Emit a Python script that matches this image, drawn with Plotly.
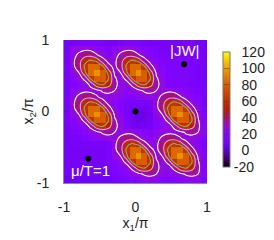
import plotly.graph_objects as go

FONT = "Liberation Sans, Arial, sans-serif"
COLORS_T = [0.0, 0.05, 0.1, 0.15, 0.2, 0.25, 0.3, 0.35, 0.4, 0.45, 0.5, 0.55, 0.6, 0.65, 0.7, 0.75, 0.8, 0.85, 0.9, 0.95, 1.0]
COLORS = ["#000000", "#39004f", "#510096", "#6301ce", "#7202f3", "#8004ff", "#8c07f3", "#970bce", "#a11096", "#ab174f", "#b42000",
          "#bd2a00", "#c63700", "#ce4600", "#d55700", "#dd6c00", "#e48300", "#eb9d00", "#f2ba00", "#f9db00", "#ffff00"]
CSCALE = [[t, c] for t, c in zip(COLORS_T, COLORS)]

# |JW|, row by row from the top of the plot
JW_ROWS = [
 [ 9,10,12,13,14,13,12,11,10,12,13,14,13,12,11,11,11,11,11,11,11,11,10, 9],
 [10,22,25,27,26,22,18,15,22,25,27,26,22,18,15,13,12,12,12,12,12,12,11,10],
 [11,25,33,39,39,31,24,19,25,33,39,39,31,24,19,15,13,13,13,13,13,13,12,10],
 [11,27,39,56,63,56,36,26,27,39,56,63,56,36,26,19,15,14,14,14,14,13,12,10],
 [11,26,39,63,84,84,63,35,26,39,63,84,84,63,35,24,18,14,14,14,14,13,12,10],
 [11,24,30,56,84,96,80,54,28,30,56,84,96,80,54,28,21,15,14,14,14,13,12,10],
 [11,18,25,33,62,80,80,60,32,25,33,62,80,80,60,32,24,16,14,14,14,13,12,10],
 [11,15,19,24,33,54,60,50,34,25,24,33,54,60,50,34,25,16,14,14,14,13,12,10],
 [11,22,25,27,26,26,32,34,30,24,19,24,26,32,34,30,25,27,26,22,18,15,13,10],
 [11,25,33,39,39,31,25,25,24,20,15,18,21,24,25,25,33,39,39,31,24,19,15,11],
 [11,27,39,56,63,56,36,26,19,15,13,12,11,11,12,27,39,56,63,56,36,26,19,11],
 [11,26,39,63,84,84,63,35,24,18,12,10, 8, 8,10,26,39,63,84,84,63,35,24,14],
 [11,24,30,56,84,96,80,54,28,21,12, 8, 5, 5, 8,24,30,56,84,96,80,54,28,15],
 [11,18,25,33,62,80,80,60,32,24,13, 9, 6, 6, 9,18,25,33,62,80,80,60,32,16],
 [10,15,19,24,33,54,60,50,34,25,14,11, 9, 9,11,15,19,24,33,54,60,50,34,18],
 [10,13,15,19,24,26,32,34,30,25,27,26,22,18,15,22,25,27,26,26,32,34,30,20],
 [10,12,13,15,18,21,24,25,25,33,39,39,31,24,19,25,33,39,39,31,25,25,24,16],
 [10,11,11,12,12,12,12,13,27,39,56,63,56,36,26,27,39,56,63,56,36,26,19,13],
 [10,10,10,10,10,10,11,13,26,39,63,84,84,63,35,26,39,63,84,84,63,35,24,15],
 [10,10,10,10,10,10,10,13,24,30,56,84,96,80,54,28,30,56,84,96,80,54,28,16],
 [10,10,10,10,10,10,10,12,18,25,33,62,80,80,60,32,25,33,62,80,80,60,32,17],
 [10,10,10,10,10,10,10,11,15,19,24,33,54,60,50,34,25,24,33,54,60,50,34,18],
 [ 9,10,10,10,10,10,10,10,13,15,19,24,26,32,34,30,24,19,24,26,32,34,30,17],
 [ 8, 9, 9, 9, 9, 9, 9, 9,11,12,14,16,19,22,23,22,18,14,16,19,22,23,22,14],
]
DOT_X = [0.68, 0.0, -0.66]
DOT_Y = [0.66, 0.0, -0.66]
CONTOUR_LEVELS = [30, 45, 60]
CONTOUR_COLORS = ["#ffffff", "#e0a0d4", "#90a870"]
CB_TICKS = [-20, 0, 20, 40, 60, 80, 100, 120]
CB_LABELS = ["-20", "\u00a0\u00a00", "\u00a0\u00a020", "\u00a0\u00a040", "\u00a0\u00a060", "\u00a0\u00a080", "\u00a0\u00a0100", "\u00a0\u00a0120"]
AXIS_TICKS = [-1, 0, 1]

z = JW_ROWS[::-1]
grid = dict(x0=-1 + 1 / 24, dx=1 / 12, y0=-1 + 1 / 24, dy=1 / 12)

fig = go.Figure()
fig.add_trace(go.Heatmap(
    z=z, **grid, colorscale=CSCALE, zmin=-20, zmax=120, hoverinfo="skip",
    colorbar=dict(
        thicknessmode="pixels", thickness=7, lenmode="pixels", len=115,
        xref="paper", yref="paper", x=1.112, xanchor="left", y=0.916, yanchor="top",
        xpad=0, ypad=0, outlinecolor="#777777", outlinewidth=1,
        tickmode="array", tickvals=CB_TICKS, ticktext=CB_LABELS,
        ticks="inside", ticklen=6, tickwidth=1, tickcolor="rgba(60,60,60,0.5)",
        tickfont=dict(family=FONT, size=14, color="#222222"), ticklabelposition="outside",
    ),
))
for level, color in zip(CONTOUR_LEVELS, CONTOUR_COLORS):
    fig.add_trace(go.Contour(
        z=z, **grid, showscale=False, hoverinfo="skip",
        contours=dict(coloring="none", start=level, end=level, size=1),
        line=dict(color=color, width=1.1, smoothing=1.0),
    ))
fig.add_trace(go.Scatter(x=DOT_X, y=DOT_Y, mode="markers", marker=dict(color="black", size=6), hoverinfo="skip"))

axis = dict(range=[-1, 1], tickmode="array", tickvals=AXIS_TICKS, ticktext=["-1", "0", "1"],
            ticks="inside", ticklen=3, tickcolor="rgba(50,50,50,0.5)", showgrid=False, zeroline=False,
            showline=True, linecolor="#8a8aa8", linewidth=1, mirror=False, automargin=False,
            tickfont=dict(family=FONT, size=14, color="#222222"), ticklabelstandoff=11)

fig.update_layout(
    width=274, height=240, autosize=False, showlegend=False,
    margin=dict(l=64, r=67, t=40, b=57, pad=0, autoexpand=False),
    paper_bgcolor="white", plot_bgcolor="white",
    font=dict(family=FONT, size=14, color="#222222"),
    xaxis=dict(axis, title=dict(text="x<sub>1</sub>/π", standoff=3, font=dict(family=FONT, size=14))),
    yaxis=dict(axis),
    annotations=[
        dict(text="x<sub>2</sub>/π", x=-0.245, y=0.5, xref="paper", yref="paper", textangle=-90, xanchor="center", yanchor="middle",
             showarrow=False, font=dict(family=FONT, size=14, color="#222222")),
        dict(text="|JW|", x=0.46, y=0.86, xref="x", yref="y", xanchor="left", yanchor="middle", showarrow=False,
             font=dict(family=FONT, size=15, color="white")),
        dict(text="μ/T=1", x=-0.93, y=-0.83, xref="x", yref="y", xanchor="left", yanchor="middle", showarrow=False,
             font=dict(family=FONT, size=15, color="white")),
    ],
)
fig.write_html("out.html", config={"displayModeBar": False}, post_script="document.body.style.margin='0';")
